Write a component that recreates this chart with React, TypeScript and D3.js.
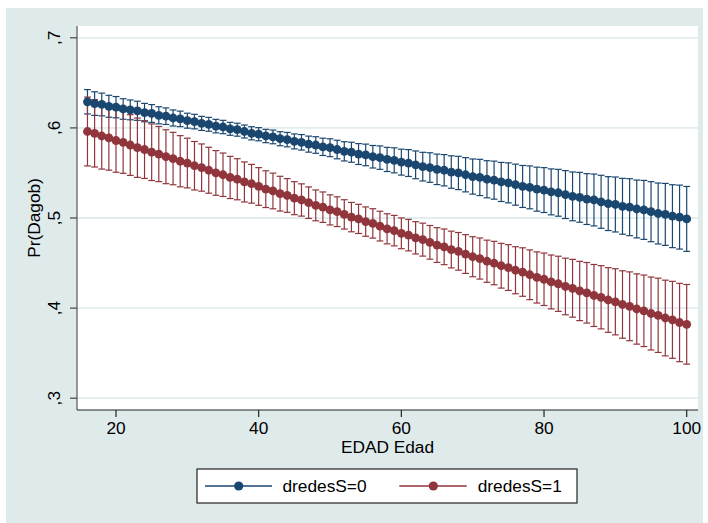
import React from "react";
import * as d3 from "d3";

const ages: number[] = d3.range(16, 101);

const blueMean = [
  0.629, 0.627, 0.626, 0.624, 0.623, 0.621, 0.620, 0.619, 0.617, 0.616,
  0.614, 0.613, 0.611, 0.610, 0.608, 0.607, 0.605, 0.604, 0.602, 0.601,
  0.599, 0.598, 0.596, 0.594, 0.593, 0.591, 0.590, 0.588, 0.587, 0.585,
  0.584, 0.582, 0.581, 0.579, 0.578, 0.576, 0.574, 0.573, 0.571, 0.570,
  0.568, 0.567, 0.565, 0.564, 0.562, 0.561, 0.559, 0.557, 0.556, 0.554,
  0.553, 0.551, 0.550, 0.548, 0.546, 0.545, 0.543, 0.542, 0.540, 0.539,
  0.537, 0.535, 0.534, 0.532, 0.531, 0.529, 0.528, 0.526, 0.524, 0.523,
  0.521, 0.520, 0.518, 0.516, 0.515, 0.513, 0.512, 0.510, 0.509, 0.507,
  0.505, 0.504, 0.502, 0.501, 0.499,
];
const blueHalf = [
  0.0135, 0.0131, 0.0126, 0.0122, 0.0118, 0.0114, 0.0110, 0.0106, 0.0102, 0.0099,
  0.0095, 0.0092, 0.0089, 0.0086, 0.0083, 0.0081, 0.0078, 0.0077, 0.0075, 0.0074,
  0.0072, 0.0072, 0.0072, 0.0073, 0.0073, 0.0074, 0.0076, 0.0078, 0.0080, 0.0083,
  0.0086, 0.0089, 0.0092, 0.0096, 0.0099, 0.0103, 0.0107, 0.0111, 0.0116, 0.0120,
  0.0125, 0.0130, 0.0134, 0.0139, 0.0144, 0.0149, 0.0154, 0.0159, 0.0164, 0.0169,
  0.0174, 0.0180, 0.0185, 0.0190, 0.0195, 0.0201, 0.0206, 0.0211, 0.0217, 0.0222,
  0.0228, 0.0233, 0.0238, 0.0244, 0.0249, 0.0255, 0.0260, 0.0266, 0.0271, 0.0277,
  0.0282, 0.0288, 0.0294, 0.0299, 0.0305, 0.0310, 0.0316, 0.0321, 0.0327, 0.0333,
  0.0338, 0.0344, 0.0349, 0.0355, 0.0360,
];
const redMean = [
  0.596, 0.594, 0.591, 0.589, 0.586, 0.584, 0.581, 0.578, 0.576, 0.573,
  0.571, 0.568, 0.566, 0.563, 0.561, 0.558, 0.556, 0.553, 0.550, 0.548,
  0.545, 0.543, 0.540, 0.538, 0.535, 0.532, 0.530, 0.527, 0.525, 0.522,
  0.520, 0.517, 0.514, 0.512, 0.509, 0.507, 0.504, 0.501, 0.499, 0.496,
  0.494, 0.491, 0.488, 0.486, 0.483, 0.481, 0.478, 0.476, 0.473, 0.470,
  0.468, 0.465, 0.463, 0.460, 0.457, 0.455, 0.452, 0.450, 0.447, 0.445,
  0.442, 0.440, 0.437, 0.434, 0.432, 0.429, 0.427, 0.424, 0.422, 0.419,
  0.417, 0.414, 0.412, 0.409, 0.407, 0.404, 0.402, 0.399, 0.397, 0.394,
  0.392, 0.389, 0.387, 0.384, 0.382,
];
const redHalf = [
  0.0382, 0.0374, 0.0367, 0.0359, 0.0352, 0.0344, 0.0337, 0.0329, 0.0321, 0.0314,
  0.0306, 0.0299, 0.0291, 0.0284, 0.0276, 0.0269, 0.0262, 0.0255, 0.0248, 0.0241,
  0.0234, 0.0228, 0.0222, 0.0215, 0.0209, 0.0204, 0.0198, 0.0193, 0.0187, 0.0183,
  0.0179, 0.0175, 0.0171, 0.0169, 0.0167, 0.0165, 0.0163, 0.0163, 0.0162, 0.0163,
  0.0163, 0.0165, 0.0167, 0.0169, 0.0171, 0.0175, 0.0179, 0.0183, 0.0187, 0.0193,
  0.0198, 0.0204, 0.0209, 0.0215, 0.0222, 0.0228, 0.0234, 0.0241, 0.0248, 0.0254,
  0.0261, 0.0269, 0.0276, 0.0284, 0.0291, 0.0299, 0.0306, 0.0314, 0.0321, 0.0329,
  0.0336, 0.0344, 0.0351, 0.0359, 0.0367, 0.0374, 0.0382, 0.0390, 0.0397, 0.0405,
  0.0412, 0.0420, 0.0427, 0.0435, 0.0442,
];

const xTicks = [20, 40, 60, 80, 100];
const yTicks = [0.3, 0.4, 0.5, 0.6, 0.7];
const yTickLabels = [",3", ",4", ",5", ",6", ",7"];
const seriesNames = ["dredesS=0", "dredesS=1"];

const W = 708;
const H = 523;
const plot = { left: 77, right: 698, top: 26, bottom: 410 };
const FONT = "'Liberation Sans', Arial, Helvetica, sans-serif";
const FS = 17.3;
const colors = ["#1a476f", "#90353b"];
const bg = "#dfeaeb";
const grid = "#e3ecee";

export default function App() {
  const x = d3.scaleLinear().domain([20, 100]).range([116, 686.7]);
  const y = d3.scaleLinear().domain([0.3, 0.7]).range([398.2, 37.8]);

  const series = [
    { mean: blueMean, half: blueHalf, color: colors[0] },
    { mean: redMean, half: redHalf, color: colors[1] },
  ];

  const line = d3
    .line<number>()
    .x((_, i) => x(ages[i]))
    .y((d) => y(d));

  const capW = 3.4;
  const r = 4.4;

  const legendItems = [
    { x0: 205, x1: 272, dot: 238.7, tx: 282.5, color: colors[0], label: seriesNames[0] },
    { x0: 399.3, x1: 466.7, dot: 433.3, tx: 477.7, color: colors[1], label: seriesNames[1] },
  ];

  return (
    <svg
      width={W}
      height={H}
      style={{ position: "absolute", left: 0, top: 0, background: "#ffffff" }}
      fontFamily={FONT}
    >
      <rect x={0} y={0} width={W} height={H} fill="#ffffff" />
      <rect x={6} y={8} width={697} height={515} fill={bg} />
      <rect
        x={plot.left}
        y={plot.top}
        width={plot.right - plot.left}
        height={plot.bottom - plot.top}
        fill="#ffffff"
      />
      {yTicks.map((t) => (
        <line
          key={"g" + t}
          x1={plot.left}
          x2={plot.right}
          y1={y(t)}
          y2={y(t)}
          stroke={grid}
          strokeWidth={1.8}
        />
      ))}
      {series.map((s, si) => (
        <g key={"ci" + si} stroke={s.color} strokeWidth={1.2} fill="none">
          {ages.map((a, i) => {
            const cx = x(a);
            const hi = y(s.mean[i] + s.half[i]);
            const lo = y(s.mean[i] - s.half[i]);
            return (
              <g key={a}>
                <line x1={cx} x2={cx} y1={hi} y2={lo} />
                <line x1={cx - capW} x2={cx + capW} y1={hi} y2={hi} />
                <line x1={cx - capW} x2={cx + capW} y1={lo} y2={lo} />
              </g>
            );
          })}
        </g>
      ))}
      {series.map((s, si) => (
        <g key={"ln" + si}>
          <path d={line(s.mean) || ""} fill="none" stroke={s.color} strokeWidth={1.5} />
          {ages.map((a, i) => (
            <circle key={a} cx={x(a)} cy={y(s.mean[i])} r={r} fill={s.color} />
          ))}
        </g>
      ))}
      <line x1={plot.left} x2={plot.left} y1={plot.top} y2={plot.bottom} stroke="#555" strokeWidth={1.2} />
      <line x1={plot.left} x2={plot.right} y1={plot.bottom} y2={plot.bottom} stroke="#222" strokeWidth={1.2} />
      {yTicks.map((t, i) => (
        <g key={"yt" + t}>
          <line x1={plot.left - 7} x2={plot.left} y1={y(t)} y2={y(t)} stroke="#444" strokeWidth={1.2} />
          <text
            transform={`translate(60,${y(t)}) rotate(-90)`}
            textAnchor="middle"
            fontSize={FS}
            fill="#000"
          >
            {yTickLabels[i]}
          </text>
        </g>
      ))}
      {xTicks.map((t) => (
        <g key={"xt" + t}>
          <line x1={x(t)} x2={x(t)} y1={plot.bottom} y2={plot.bottom + 7} stroke="#222" strokeWidth={1.2} />
          <text x={x(t)} y={434} textAnchor="middle" fontSize={FS} fill="#000">
            {t}
          </text>
        </g>
      ))}
      <text x={(plot.left + plot.right) / 2} y={453.3} textAnchor="middle" fontSize={FS} fill="#000">
        EDAD Edad
      </text>
      <text
        transform={`translate(40,${(plot.top + plot.bottom) / 2}) rotate(-90)`}
        textAnchor="middle"
        fontSize={FS}
        fill="#000"
      >
        Pr(Dagob)
      </text>
      <rect x={197} y={469} width={380} height={34} fill="#ffffff" stroke="#222" strokeWidth={1.2} />
      {legendItems.map((l) => (
        <g key={l.label}>
          <line x1={l.x0} x2={l.x1} y1={486} y2={486} stroke={l.color} strokeWidth={1.5} />
          <circle cx={l.dot} cy={486} r={4.6} fill={l.color} />
          <text x={l.tx} y={491.6} fontSize={FS} fill="#000">
            {l.label}
          </text>
        </g>
      ))}
    </svg>
  );
}
